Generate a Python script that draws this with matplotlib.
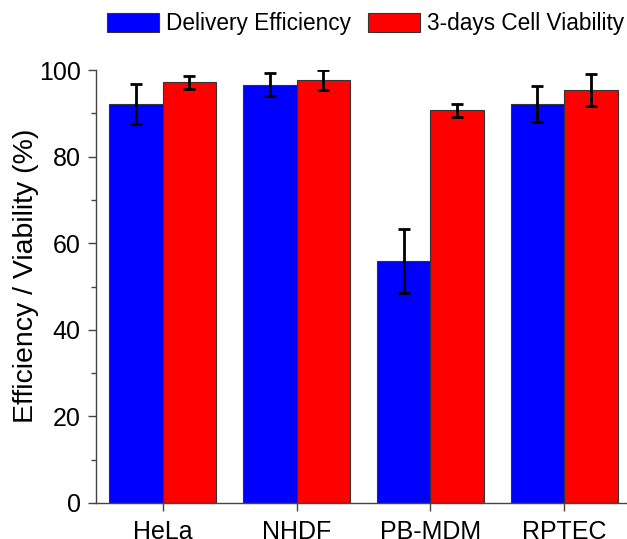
import matplotlib
matplotlib.use("Agg")
import matplotlib.pyplot as plt
import numpy as np
from matplotlib.ticker import MultipleLocator

plt.rcParams['font.family'] = ['Liberation Sans', 'DejaVu Sans']

cell_types = ["HeLa", "NHDF", "PB-MDM", "RPTEC"]
delivery = [92.2, 96.6, 55.9, 92.1]
delivery_err = [4.6, 2.6, 7.3, 4.1]
viability = [97.2, 97.7, 90.7, 95.4]
viability_err = [1.5, 2.2, 1.5, 3.7]

fig = plt.figure(figsize=(6.27, 5.39), dpi=100)
ax = fig.add_axes([0.1528, 0.0668, 0.8536, 0.8033])

x = np.arange(1, len(cell_types) + 1)
w = 0.4
edge = "#333333"
err_kw = dict(ecolor="black", elinewidth=2.0, capsize=4.5, capthick=2.0)

b1 = ax.bar(x - w / 2, delivery, w, color="#0000FF", edgecolor=edge,
            linewidth=0.8, yerr=delivery_err, error_kw=err_kw,
            label="Delivery Efficiency")
b2 = ax.bar(x + w / 2, viability, w, color="#FF0000", edgecolor=edge,
            linewidth=0.8, yerr=viability_err, error_kw=err_kw,
            label="3-days Cell Viability")

ax.set_xlim(0.5, 4.5)
ax.set_ylim(0, 100)
ax.set_xticks(x)
ax.set_xticklabels(cell_types)
ax.yaxis.set_major_locator(MultipleLocator(20))
ax.yaxis.set_minor_locator(MultipleLocator(10))

for side in ("top", "right"):
    ax.spines[side].set_visible(False)
for side in ("left", "bottom"):
    ax.spines[side].set_color("#444444")
    ax.spines[side].set_linewidth(1.0)

ax.tick_params(axis="both", which="major", direction="out", length=6,
               width=1.0, color="#444444", labelsize=18, pad=5)
ax.tick_params(axis="x", which="major", pad=6)
ax.tick_params(axis="y", which="minor", direction="out", length=3.5,
               width=1.0, color="#444444")
ax.set_ylabel("Efficiency / Viability (%)", fontsize=20.5)
ax.yaxis.set_label_coords(-0.106, 0.524)

fig.legend(handles=[b1, b2], loc="center", bbox_to_anchor=(0.583, 0.956),
           ncol=2, frameon=False, fontsize=16.3, handlelength=2.3,
           handleheight=0.95, handletextpad=0.3, columnspacing=0.75,
           borderaxespad=0)

fig.savefig("out.png", dpi=100)
